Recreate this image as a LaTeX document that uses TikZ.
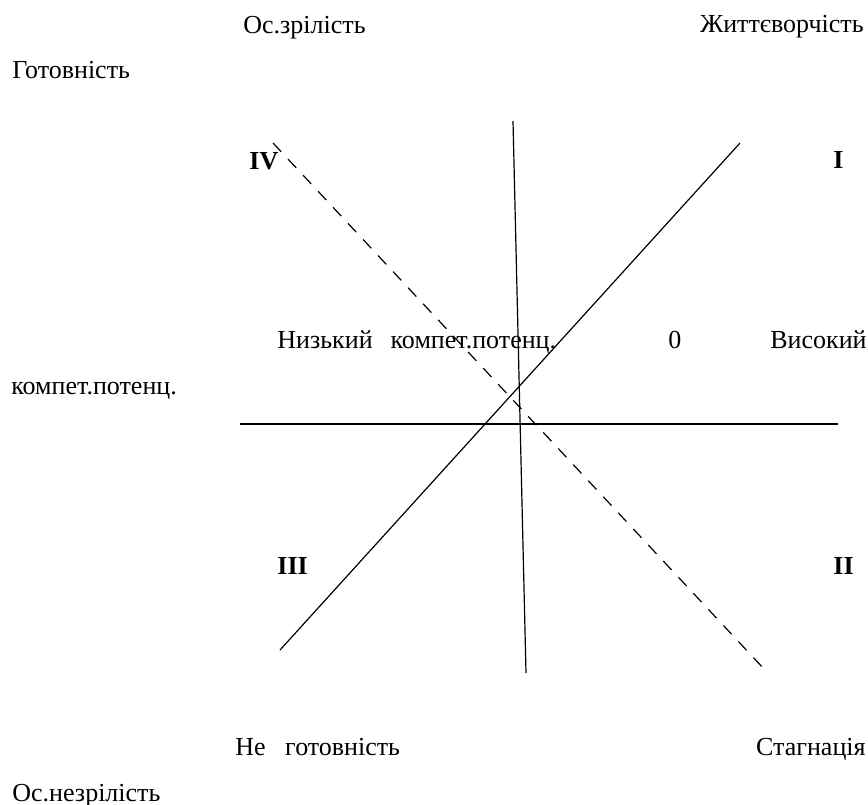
\documentclass[tikz,border=0pt]{standalone}
\usepackage{fontspec}
\setmainfont{Liberation Serif}
\usepackage{tikz}
\usetikzlibrary{positioning,calc}

\begin{document}
\begin{tikzpicture}[
  x=0.5pt, y=-0.5pt,
  lbl/.style={anchor=base west, inner sep=0pt, font=\fontsize{13}{15}\selectfont},
  rlbl/.style={lbl, anchor=base east},
  quad/.style={lbl, font=\fontsize{13}{15}\selectfont\bfseries},
  axis/.style={line width=0.6pt},
  dashline/.style={line width=0.6pt, dash pattern=on 6pt off 5pt}
]
\useasboundingbox (0,0) rectangle (868,804);
% labels
\node[lbl] (oszr) at (243,33) {Ос.зрілість};
\node[rlbl] (zhyt) at (864,32) {Життєворчість};
\node[lbl] (got) at (12,78) {Готовність};
\node[quad] (q4) at (249,169) {IV};
\node[quad] (q1) at (833,168) {I};
\node[lbl] (nyz) at (277,348) {Низький\hspace{9pt}компет.потенц.};
\node[lbl] (zero) at (668,348) {0};
\node[rlbl] (vys) at (867,348) {Високий};
\node[lbl] (komp) at (11,394) {компет.потенц.};
\node[quad] (q3) at (277,574) {III};
\node[quad] (q2) at (833,574) {II};
\node[lbl] (negot) at (235,755) {Не\ \ \ готовність};
\node[rlbl] (stag) at (866,755) {Стагнація};
\node[lbl] (osnez) at (12,801) {Ос.незрілість};
% axes
\coordinate (vt) at (513,121);
\coordinate (vb) at (526,673);
\coordinate (hl) at (240,424);
\coordinate (hr) at (838,424);
\coordinate (st) at (740,143);
\coordinate (sb) at (280,650);
\coordinate (dt) at (273,143);
\coordinate (db) at (765,670);
\draw[axis] (vt) -- (vb);
\draw[axis] (hl) -- (hr);
\draw[axis] (st) -- (sb);
\draw[dashline] (dt) -- (db);
\end{tikzpicture}
\end{document}
